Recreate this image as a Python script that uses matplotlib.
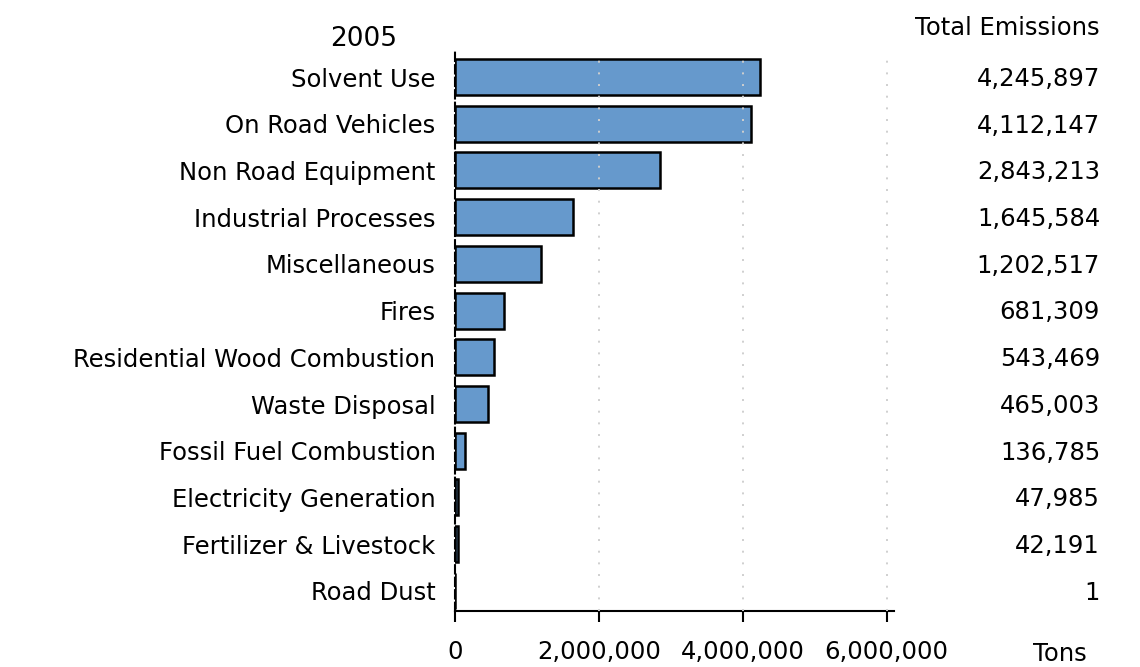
import matplotlib
matplotlib.use("Agg")
import matplotlib.pyplot as plt
import matplotlib.transforms as mtransforms

plt.rcParams['font.family'] = ['DejaVu Sans']

# data
sources = ['Solvent Use', 'On Road Vehicles', 'Non Road Equipment',
           'Industrial Processes', 'Miscellaneous', 'Fires',
           'Residential Wood Combustion', 'Waste Disposal',
           'Fossil Fuel Combustion', 'Electricity Generation',
           'Fertilizer & Livestock', 'Road Dust']
emissions = [4245897, 4112147, 2843213, 1645584, 1202517, 681309,
             543469, 465003, 136785, 47985, 42191, 1]
xticks = [0, 2000000, 4000000, 6000000]

fs = 17.5

fig = plt.figure(figsize=(11.4, 6.67), dpi=100)
ax = fig.add_axes([0.399, 0.084, 0.382, 0.838])

pos = list(range(len(sources)))
ax.barh(pos, emissions, height=0.77, color='#6699cc', edgecolor='black',
        linewidth=1.8, zorder=2)

ax.set_ylim(len(sources) - 1 + 0.43, -0.535)
ax.set_xlim(0, 6050000)
ax.set_yticks(pos)
ax.set_yticklabels(sources, fontsize=fs)
ax.tick_params(axis='y', length=0, pad=14)
ax.set_xticks(xticks)
ax.set_xticklabels(['{:,}'.format(v) for v in xticks], fontsize=fs)
ax.tick_params(axis='x', length=8, width=1.5, pad=13)

for s in ['top', 'right']:
    ax.spines[s].set_visible(False)
ax.spines['left'].set_linestyle((0, (4, 2)))
ax.spines['left'].set_linewidth(1.5)
ax.spines['bottom'].set_linewidth(1.5)
ax.spines['bottom'].set_bounds(0, 6100000)

for v in xticks[1:]:
    ax.axvline(v, color='#cfcfcf', linestyle=(0, (1, 5)), linewidth=1.4, zorder=3)

ax.set_title('2005', fontsize=19, x=-0.21, y=1.0, pad=4)

trans = mtransforms.blended_transform_factory(fig.transFigure, ax.transData)
for p, v in zip(pos, emissions):
    ax.text(0.965, p + 0.04, '{:,}'.format(v), transform=trans, ha='right',
            va='center', fontsize=fs)

fig.text(0.965, 0.958, 'Total Emissions', ha='right', va='center', fontsize=fs)
fig.text(0.93, 0.02, 'Tons', ha='center', va='center', fontsize=fs)

fig.savefig('out.png', dpi=100)
